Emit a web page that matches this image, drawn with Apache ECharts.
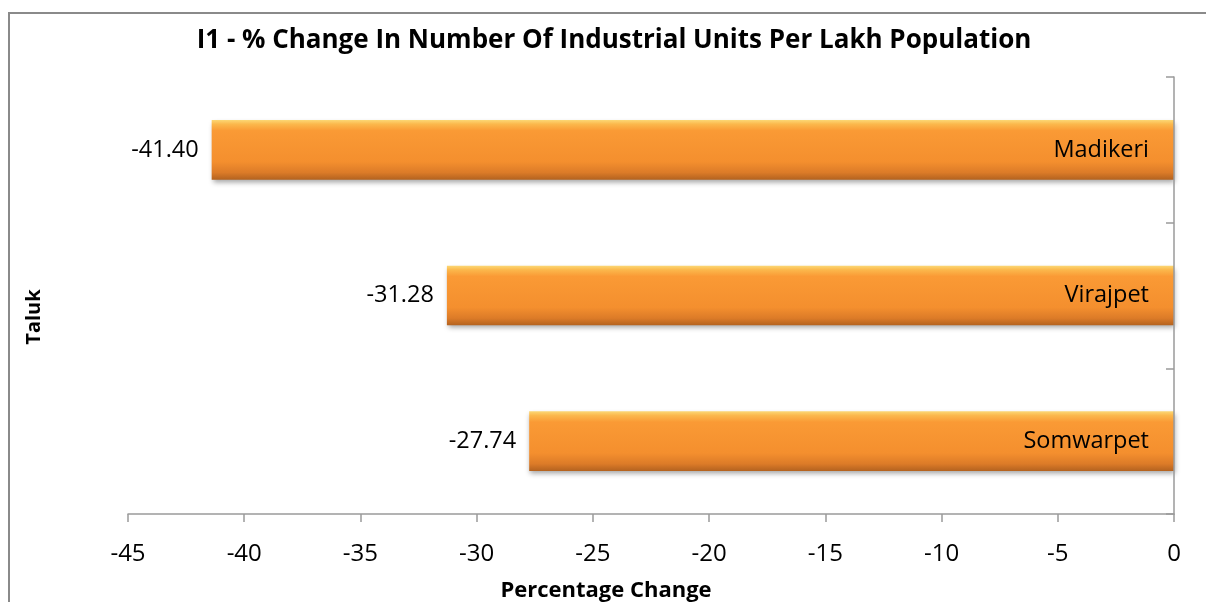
<!DOCTYPE html>
<html>
<head>
<meta charset="utf-8">
<script src="https://cdn.jsdelivr.net/npm/echarts@6/dist/echarts.min.js"></script>
<style>
html,body{margin:0;padding:0;background:#fff;}
#chart{width:1206px;height:602px;}
</style>
</head>
<body>
<div id="chart"></div>
<script>
const categories = ['Somwarpet', 'Virajpet', 'Madikeri'];
const values = [-27.74, -31.28, -41.40];
const xTicks = { min: -45, max: 0, interval: 5 };
const titleText = 'I1 - % Change In Number Of Industrial Units Per Lakh Population';
const xAxisTitle = 'Percentage Change';
const yAxisTitle = 'Taluk';

const FONT = '"Open Sans", "Noto Sans", sans-serif';
const chart = echarts.init(document.getElementById('chart'), null, { renderer: 'canvas' });

const barColor = new echarts.graphic.LinearGradient(0, 0, 0, 1, [
  { offset: 0, color: '#FCD875' },
  { offset: 0.07, color: '#FBB84C' },
  { offset: 0.18, color: '#FA9A35' },
  { offset: 0.7, color: '#F48F2E' },
  { offset: 0.88, color: '#DC7B28' },
  { offset: 1, color: '#B3621F' }
]);

chart.setOption({
  backgroundColor: '#ffffff',
  animation: false,
  title: {
    text: titleText,
    left: 609,
    textAlign: 'center',
    top: 23,
    textStyle: { fontFamily: FONT, fontWeight: 'bold', fontSize: 26, color: '#000' }
  },
  graphic: [
    {
      type: 'rect', silent: true, z: -1,
      shape: { x: 9, y: 13, width: 1300, height: 700 },
      style: { fill: 'none', stroke: '#8a8a8a', lineWidth: 2 }
    },
    {
      type: 'text', silent: true,
      x: 34, y: 317, rotation: Math.PI / 2,
      style: { text: yAxisTitle, fontFamily: FONT, fontWeight: 'bold', fontSize: 20, fill: '#000',
        align: 'center', verticalAlign: 'middle' }
    },
    {
      type: 'text', silent: true,
      x: 606, y: 591,
      style: { text: xAxisTitle, fontFamily: FONT, fontWeight: 'bold', fontSize: 22, fill: '#000',
        align: 'center', verticalAlign: 'middle' }
    }
  ],
  grid: { left: 128, right: 32, top: 77, bottom: 88, containLabel: false },
  xAxis: {
    type: 'value',
    min: xTicks.min, max: xTicks.max, interval: xTicks.interval,
    splitLine: { show: false },
    axisLine: { show: true, lineStyle: { color: '#9a9a9a', width: 1.5 } },
    axisTick: { show: true, length: 8, lineStyle: { color: '#9a9a9a', width: 1.5 } },
    axisLabel: { fontFamily: FONT, fontSize: 24, color: '#000', margin: 28 }
  },
  yAxis: {
    type: 'category',
    data: categories,
    position: 'right',
    axisLine: { show: true, onZero: false, lineStyle: { color: '#9a9a9a', width: 1.5 } },
    axisTick: { show: true, inside: true, length: 8, lineStyle: { color: '#9a9a9a', width: 1.5 } },
    axisLabel: { inside: true, margin: 25, fontFamily: FONT, fontSize: 23.5, color: '#000' },
    z: 10
  },
  series: [{
    type: 'bar',
    data: values,
    barWidth: '41%',
    itemStyle: {
      color: barColor,
      shadowColor: 'rgba(0,0,0,0.35)',
      shadowBlur: 5,
      shadowOffsetX: 1,
      shadowOffsetY: 3
    },
    label: {
      show: true,
      position: 'left',
      distance: 13,
      fontFamily: FONT, fontSize: 23.5, color: '#000',
      formatter: p => p.value.toFixed(2)
    }
  }]
});
</script>
</body>
</html>
